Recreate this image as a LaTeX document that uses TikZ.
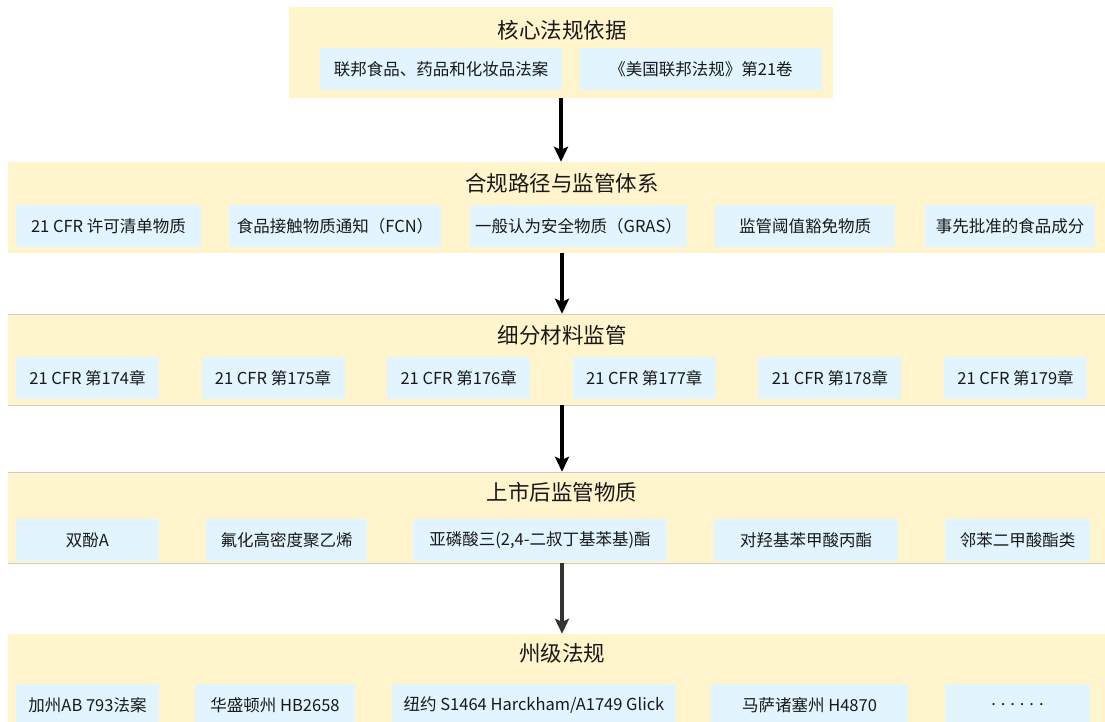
\documentclass[tikz,border=0pt]{standalone}
\usepackage{fontspec}
\setmainfont{Noto Sans CJK SC}
\usetikzlibrary{arrows.meta}
\definecolor{panelbg}{HTML}{FFF4CC}
\definecolor{boxbg}{HTML}{E2F4FD}
\definecolor{rulegray}{HTML}{CCCCCC}
\begin{document}
\begin{tikzpicture}[x=1pt,y=-1pt,
  panel/.style={fill=panelbg,draw=none,inner sep=0pt,minimum height=91pt},
  title/.style={font=\fontsize{21.5}{25}\selectfont,text=black!90},
  itembox/.style={fill=boxbg,draw=none,inner sep=0pt,minimum height=42pt,font=\fontsize{16.5}{20}\selectfont,text=black!90},
  flow/.style={line width=3.2pt,-{Stealth[length=15pt,width=14pt,inset=3pt]}}]
\useasboundingbox (0,0) rectangle (1105,722);
\clip (0,0) rectangle (1105,722);

% panels
\node[panel,minimum width=544pt] (core) at (561,52.5) {};
\node[panel,minimum width=1108pt] (path) at (562,207.5) {};
\node[panel,minimum width=1108pt] (mat) at (562,359.5) {};
\node[panel,minimum width=1108pt] (post) at (562,517.5) {};
\node[panel,minimum width=1108pt,minimum height=100pt] (state) at (562,684) {};
\draw[rulegray] (mat.north west) -- (mat.north east) (mat.south west) -- (mat.south east);
\draw[rulegray] (post.north west) -- (post.north east) (post.south west) -- (post.south east);

% titles
\node[title] (coreT) at (562,30) {核心法规依据};
\node[title] (pathT) at (562,183) {合规路径与监管体系};
\node[title] (matT) at (562,335) {细分材料监管};
\node[title] (postT) at (562,492) {上市后监管物质};
\node[title] (stateT) at (562,653) {州级法规};

% core
\node[itembox,minimum width=242pt] (fdca) at (441,69) {联邦食品、药品和化妆品法案};
\node[itembox,minimum width=242pt] (cfr) at (701,69) {《美国联邦法规》第21卷};

% path
\node[itembox,minimum width=185pt] (list) at (108.5,226) {21 CFR 许可清单物质};
\node[itembox,minimum width=212pt] (fcn) at (335,226) {食品接触物质通知（FCN）};
\node[itembox,minimum width=217pt] (gras) at (578.5,226) {一般认为安全物质（GRAS）};
\node[itembox,minimum width=180pt] (tor) at (805,226) {监管阈值豁免物质};
\node[itembox,minimum width=170pt] (prior) at (1010,226) {事先批准的食品成分};

% materials
\foreach \n [count=\i from 0] in {174,175,176,177,178,179}
  \node[itembox,minimum width=143pt] (part\n) at (87.5+185.6*\i,378) {21 CFR 第\n 章};

% post-market
\node[itembox,minimum width=143pt] (bpa) at (87.5,540) {双酚A};
\node[itembox,minimum width=161pt] (hdpe) at (286.5,540) {氟化高密度聚乙烯};
\node[itembox,minimum width=254pt] (phos) at (540,540) {亚磷酸三(2,4-二叔丁基苯基)酯};
\node[itembox,minimum width=184pt] (paraben) at (806,540) {对羟基苯甲酸丙酯};
\node[itembox,minimum width=145pt] (phth) at (1017.5,540) {邻苯二甲酸酯类};

% state
\node[itembox,minimum width=143pt] (ca) at (87.5,705) {加州AB 793法案};
\node[itembox,minimum width=160pt] (wa) at (275,705) {华盛顿州 HB2658};
\node[itembox,minimum width=284pt] (ny) at (534,705) {纽约 S1464 Harckham/A1749 Glick};
\node[itembox,minimum width=197pt] (ma) at (809.5,705) {马萨诸塞州 H4870};
\node[itembox,minimum width=145pt] (more) at (1017.5,705) {. . . . . .};

% arrows
\draw[flow] (core.south) -- (path.north -| core.south);
\draw[flow] (path.south) -- (mat.north);
\draw[flow] (mat.south) -- (post.north);
\draw[flow,black!80] (post.south) -- (state.north);
\end{tikzpicture}
\end{document}
